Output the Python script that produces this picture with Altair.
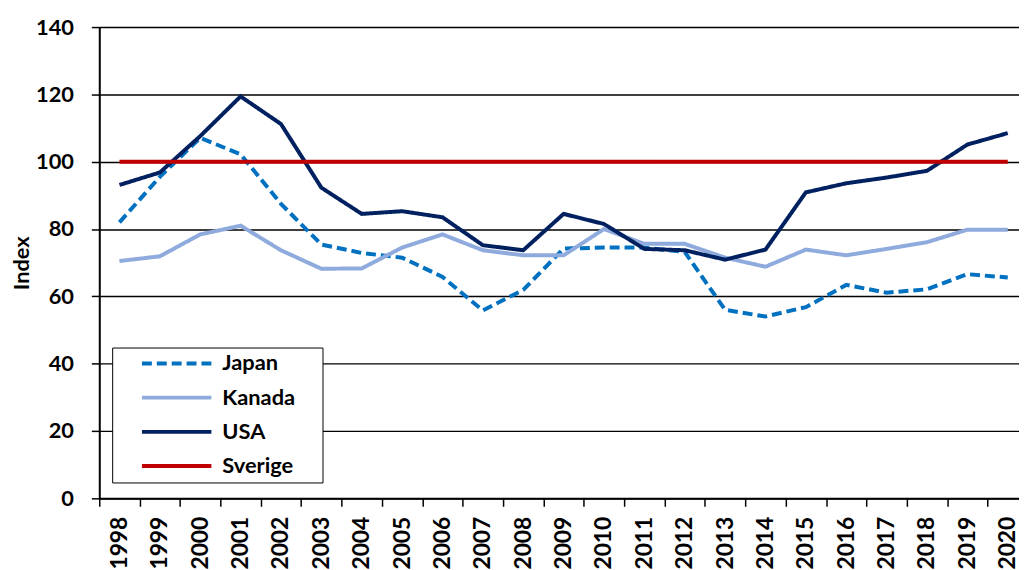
import altair as alt
import pandas as pd

years = [str(y) for y in range(1998, 2021)]
japan = [82.0, 95.5, 107.1, 102.2, 87.5, 75.4, 72.9, 71.5, 65.8, 55.8, 61.9, 74.2,
         74.5, 74.5, 73.2, 56.0, 54.0, 56.8, 63.4, 61.1, 62.1, 66.6, 65.6]
kanada = [70.5, 71.9, 78.4, 81.0, 73.7, 68.2, 68.3, 74.5, 78.4, 73.7, 72.2, 72.2,
          80.0, 75.6, 75.6, 71.5, 68.8, 73.9, 72.2, 74.1, 76.1, 79.8, 79.8]
usa = [93.1, 96.8, 107.6, 119.4, 111.2, 92.3, 84.5, 85.3, 83.5, 75.2, 73.7, 84.5,
       81.5, 74.1, 73.7, 70.9, 73.9, 90.9, 93.6, 95.3, 97.3, 105.1, 108.5]
sverige = [100.0] * len(years)

series = ["Japan", "Kanada", "USA", "Sverige"]
colors = ["#0070C0", "#8FAADC", "#002060", "#C00000"]
dashes = [[10, 5], [1, 0], [1, 0], [1, 0]]
y_ticks = [0, 20, 40, 60, 80, 100, 120, 140]

rows = []
for name, vals in zip(series, [japan, kanada, usa, sverige]):
    for yr, v in zip(years, vals):
        rows.append({"year": yr, "series": name, "value": v})
df = pd.DataFrame(rows)

FONT = "Lato"

base = alt.Chart(df).encode(
    x=alt.X("year:O", title=None,
            scale=alt.Scale(type="band", paddingInner=0, paddingOuter=0, range=[0, 936]),
            axis=alt.Axis(tickBand="extent", labelAngle=270, labelAlign="right",
                          labelBaseline="middle", labelPadding=10, tickSize=8,
                          tickColor="black", tickWidth=1.5, domainColor="black",
                          domainWidth=2, labelFont=FONT, labelFontSize=23,
                          labelFontWeight="bold", labelColor="black", grid=False)),
    y=alt.Y("value:Q", title="Index",
            scale=alt.Scale(domain=[0, 140], nice=False),
            axis=alt.Axis(values=y_ticks, tickSize=8, tickColor="black", tickWidth=1.5,
                          domainColor="black", domainWidth=2, labelPadding=18,
                          labelFont=FONT, labelFontSize=22, labelFontWeight="bold",
                          labelColor="black", grid=True, gridColor="black",
                          gridWidth=1.4, titleFont=FONT, titleFontSize=22,
                          titleFontWeight="bold", titleColor="black", titlePadding=2)),
    color=alt.Color("series:N", scale=alt.Scale(domain=series, range=colors),
                    legend=alt.Legend(title=" ", titleOrient="right", titlePadding=23,
                                      titleFontSize=10,
                                      orient="none", legendX=13, legendY=323,
                                      symbolType="M-5,0H5", symbolSize=196,
                                      symbolStrokeWidth=4, symbolOffset=49,
                                      symbolFillColor="transparent",
                                      labelFont=FONT, labelFontSize=22,
                                      labelFontWeight="bold", labelColor="black",
                                      labelOffset=35, rowPadding=12.5, padding=5,
                                      strokeColor="black", fillColor="white")),
    strokeDash=alt.StrokeDash("series:N", scale=alt.Scale(domain=series, range=dashes),
                              legend=None),
)

layers = [
    base.transform_filter(alt.datum.series == name).mark_line(strokeWidth=4)
    for name in series
]

chart = alt.layer(*layers).properties(
    width=925, height=475,
    autosize=alt.AutoSizeParams(type="none"),
    padding={"left": 92, "top": 17, "right": 2, "bottom": 70},
).configure_view(stroke=None)

chart.save("out.html", embed_options={"renderer": "svg", "actions": False})
